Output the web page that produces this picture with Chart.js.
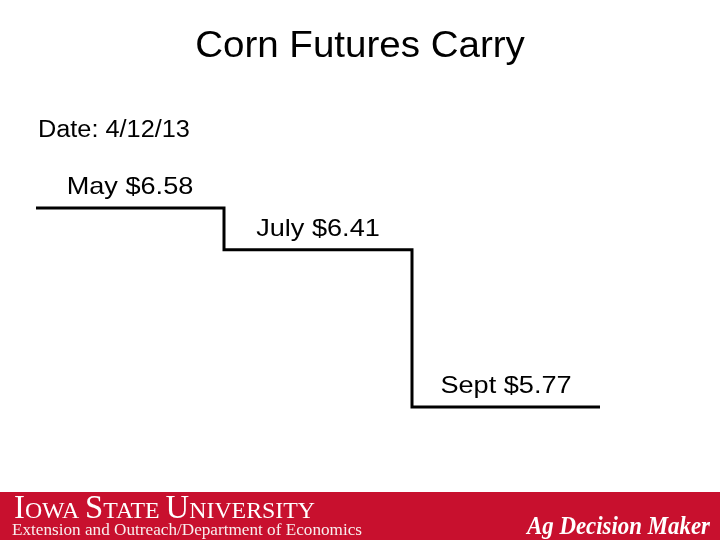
<!DOCTYPE html>
<html>
<head>
<meta charset="utf-8">
<script src="https://cdn.jsdelivr.net/npm/chart.js@4"></script>
<style>
html,body{margin:0;padding:0;background:#fff;}
#wrap{width:720px;height:540px;position:relative;}
</style>
</head>
<body>
<div id="wrap"><canvas id="c" width="720" height="540"></canvas></div>
<script>
// ---- data ----
const months = ['May', 'July', 'Sept'];
const prices = [6.58, 6.41, 5.77];
const priceLabels = ['May $6.58', 'July $6.41', 'Sept $5.77'];
const titleText = 'Corn Futures Carry';
const dateText = 'Date: 4/12/13';

// build step segments: each contract month is one horizontal step
const points = [];
prices.forEach((p, i) => { points.push({x: i, y: p}); points.push({x: i + 1, y: p}); });

function drawScaledText(ctx, text, x, y, font, sx, align, color) {
  ctx.save();
  ctx.font = font;
  ctx.fillStyle = color;
  ctx.textBaseline = 'alphabetic';
  const w = ctx.measureText(text).width * sx;
  let x0 = x;
  if (align === 'center') x0 = x - w / 2;
  else if (align === 'right') x0 = x - w;
  ctx.translate(x0, y);
  ctx.scale(sx, 1);
  ctx.textAlign = 'left';
  ctx.fillText(text, 0, 0);
  ctx.restore();
}
function drawFitText(ctx, text, x, y, font, width, color) {
  ctx.save();
  ctx.font = font;
  const w = ctx.measureText(text).width;
  ctx.fillStyle = color;
  ctx.translate(x, y);
  ctx.scale(width / w, 1);
  ctx.fillText(text, 0, 0);
  ctx.restore();
}

const slidePlugin = {
  id: 'slide',
  beforeDraw(chart) {
    const ctx = chart.ctx;
    ctx.save();
    ctx.fillStyle = '#ffffff';
    ctx.fillRect(0, 0, 720, 540);
    ctx.restore();
  },
  afterDraw(chart) {
    const ctx = chart.ctx;
    const xs = chart.scales.x, ys = chart.scales.y;
    // title and date
    drawScaledText(ctx, titleText, 360, 57, '36px "Liberation Sans", Arial, sans-serif', 1.07, 'center', '#000');
    drawScaledText(ctx, dateText, 38, 137, '23px "Liberation Sans", Arial, sans-serif', 1.1, 'left', '#000');
    // price labels above each step
    priceLabels.forEach((t, i) => {
      const cx = xs.getPixelForValue(i + 0.5);
      const cy = ys.getPixelForValue(prices[i]) - 14;
      drawScaledText(ctx, t, cx, cy, '24px "Liberation Sans", Arial, sans-serif', 1.13, 'center', '#000');
    });
    // footer band
    ctx.save();
    ctx.fillStyle = '#C8102E';
    ctx.fillRect(0, 492, 720, 48);
    ctx.restore();
    // IOWA STATE UNIVERSITY in small caps
    const parts = [['I', 33], ['OWA ', 24], ['S', 33], ['TATE ', 24], ['U', 33], ['NIVERSITY', 24]];
    ctx.save();
    let total = 0;
    parts.forEach(p => { ctx.font = p[1] + 'px "Liberation Serif", "DejaVu Serif", serif'; total += ctx.measureText(p[0]).width; });
    const sx = 301 / total;
    let x = 14;
    ctx.fillStyle = '#ffffff';
    parts.forEach(p => {
      ctx.font = p[1] + 'px "Liberation Serif", "DejaVu Serif", serif';
      const w = ctx.measureText(p[0]).width;
      ctx.save();
      ctx.translate(x, 518);
      ctx.scale(sx, 1);
      ctx.fillText(p[0], 0, 0);
      ctx.restore();
      x += w * sx;
    });
    ctx.restore();
    drawFitText(ctx, 'Extension and Outreach/Department of Economics', 12, 535, '17px "Liberation Serif", "DejaVu Serif", serif', 350, '#f8eeee');
    drawFitText(ctx, 'Ag Decision Maker', 527, 534, 'italic bold 25px "Liberation Serif", "DejaVu Serif", serif', 183, '#ffffff');
  }
};

new Chart(document.getElementById('c'), {
  type: 'line',
  data: {
    datasets: [{
      label: 'Corn futures',
      data: points,
      borderColor: '#000000',
      borderWidth: 3,
      pointRadius: 0,
      tension: 0,
      fill: false,
      clip: false
    }]
  },
  options: {
    responsive: false,
    animation: false,
    layout: { padding: { left: 36, right: 120, top: 208, bottom: 133 } },
    plugins: { legend: { display: false }, tooltip: { enabled: false }, title: { display: false } },
    scales: {
      x: { type: 'linear', display: false, min: 0, max: months.length },
      y: { type: 'linear', display: false, min: Math.min(...prices), max: Math.max(...prices) }
    }
  },
  plugins: [slidePlugin]
});
</script>
</body>
</html>
